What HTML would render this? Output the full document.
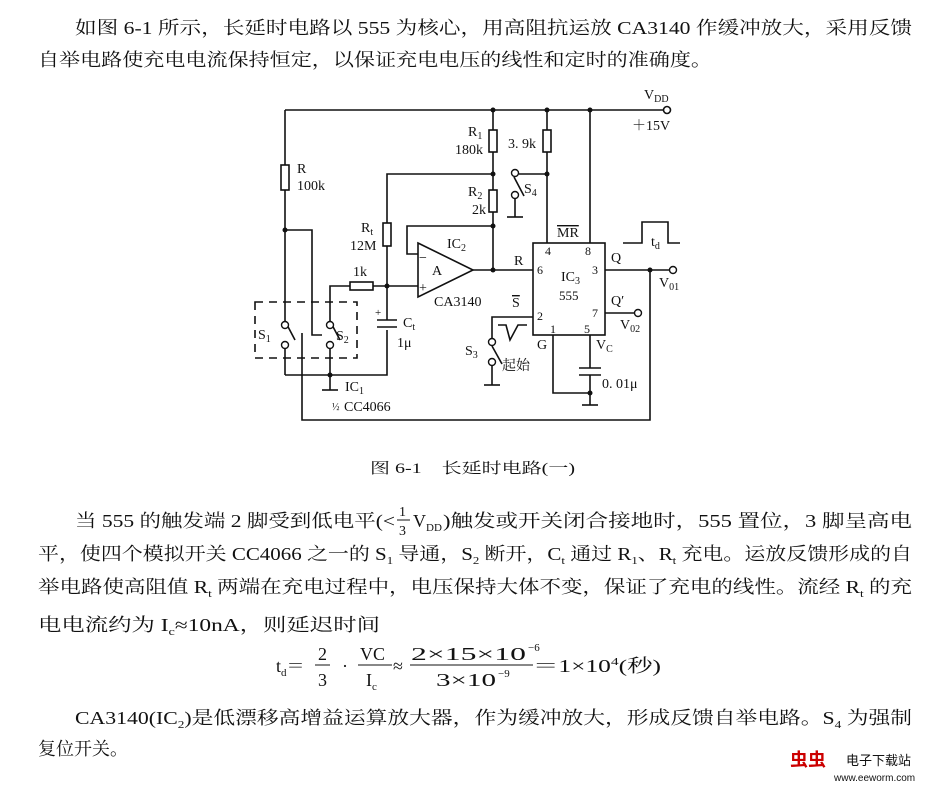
<!DOCTYPE html>
<html><head><meta charset="utf-8"><style>
html,body{margin:0;padding:0;background:#fff}
svg{display:block}
.t{font-family:"Liberation Serif","Noto Serif CJK SC",serif;font-size:18px;fill:#111}
.c{font-family:"Liberation Serif","Noto Serif CJK SC",serif;font-size:14px;fill:#111}
</style></head><body>
<svg width="928" height="785" viewBox="0 0 928 785" xmlns="http://www.w3.org/2000/svg">
<g class="t">
<text x="75" y="34" textLength="837" lengthAdjust="spacingAndGlyphs">如图 6-1 所示，长延时电路以 555 为核心，用高阻抗运放 CA3140 作缓冲放大，采用反馈</text>
<text x="38" y="66" textLength="674" lengthAdjust="spacingAndGlyphs">自举电路使充电电流保持恒定，以保证充电电压的线性和定时的准确度。</text>
<text x="370" y="473" textLength="205" lengthAdjust="spacingAndGlyphs" style="font-size:15px">图 6-1　长延时电路(一)</text>
<text x="75" y="527" textLength="320" lengthAdjust="spacingAndGlyphs">当 555 的触发端 2 脚受到低电平(&lt;</text>
<text x="399" y="516" style="font-size:14px">1</text><line x1="397" y1="520" x2="410" y2="520" stroke="#111"/><text x="399" y="535" style="font-size:14px">3</text>
<text x="413" y="527">V</text><text x="426" y="531" style="font-size:11px">DD</text>
<text x="443" y="527" textLength="469" lengthAdjust="spacingAndGlyphs">)触发或开关闭合接地时，555 置位，3 脚呈高电</text>
<text x="38" y="560" textLength="874" lengthAdjust="spacingAndGlyphs">平，使四个模拟开关 CC4066 之一的 S<tspan style="font-size:11px" dy="4">1</tspan><tspan dy="-4"> 导通，S</tspan><tspan style="font-size:11px" dy="4">2</tspan><tspan dy="-4"> 断开，C</tspan><tspan style="font-size:11px" dy="4">t</tspan><tspan dy="-4"> 通过 R</tspan><tspan style="font-size:11px" dy="4">1</tspan><tspan dy="-4">、R</tspan><tspan style="font-size:11px" dy="4">t</tspan><tspan dy="-4"> 充电。运放反馈形成的自</tspan></text>
<text x="38" y="593" textLength="874" lengthAdjust="spacingAndGlyphs">举电路使高阻值 R<tspan style="font-size:11px" dy="4">t</tspan><tspan dy="-4"> 两端在充电过程中，电压保持大体不变，保证了充电的线性。流经 R</tspan><tspan style="font-size:11px" dy="4">t</tspan><tspan dy="-4"> 的充</tspan></text>
<text x="38" y="631" textLength="342" lengthAdjust="spacingAndGlyphs">电电流约为 I<tspan style="font-size:11px" dy="4">c</tspan><tspan dy="-4">≈10nA，则延迟时间</tspan></text>
<text x="276" y="672">t<tspan style="font-size:11px" dy="4">d</tspan><tspan dy="-4">＝</tspan></text>
<text x="318" y="660">2</text><line x1="315" y1="665" x2="330" y2="665" stroke="#111"/><text x="318" y="686">3</text>
<text x="342" y="672">·</text>
<text x="360" y="660">VC</text><line x1="358" y1="665" x2="392" y2="665" stroke="#111"/><text x="366" y="686">I<tspan style="font-size:11px" dy="4">c</tspan></text>
<text x="393" y="672">≈</text>
<text x="411" y="660" textLength="115" lengthAdjust="spacingAndGlyphs">2×15×10</text><text x="528" y="651" style="font-size:11px">−6</text>
<line x1="410" y1="665" x2="533" y2="665" stroke="#111"/>
<text x="436" y="686" textLength="60" lengthAdjust="spacingAndGlyphs">3×10</text><text x="498" y="677" style="font-size:11px">−9</text>
<text x="533" y="672" textLength="128" lengthAdjust="spacingAndGlyphs">＝1×10<tspan style="font-size:11px" dy="-7">4</tspan><tspan dy="7">(秒)</tspan></text>
<text x="75" y="724" textLength="837" lengthAdjust="spacingAndGlyphs">CA3140(IC<tspan style="font-size:11px" dy="4">2</tspan><tspan dy="-4">)是低漂移高增益运算放大器，作为缓冲放大，形成反馈自举电路。S</tspan><tspan style="font-size:11px" dy="4">4</tspan><tspan dy="-4"> 为强制</tspan></text>
<text x="38" y="755" textLength="90" lengthAdjust="spacingAndGlyphs">复位开关。</text>
</g>
<!-- watermark -->
<text x="790" y="766" style="font-family:'Noto Sans CJK SC',sans-serif;font-size:18px;font-weight:bold;fill:#c00">虫虫</text>
<text x="846" y="765" style="font-family:'Noto Sans CJK SC',sans-serif;font-size:13px;fill:#111">电子下载站</text>
<text x="834" y="781" style="font-family:'Liberation Sans',sans-serif;font-size:10px;fill:#111">www.eeworm.com</text>

<!-- circuit -->
<g stroke="#111" stroke-width="1.6" fill="none">
<polyline points="285,110 663,110"/>
<circle cx="667" cy="110" r="3.5" fill="#fff"/>
<line x1="285" y1="110" x2="285" y2="165"/><rect x="281" y="165" width="8" height="25"/><line x1="285" y1="190" x2="285" y2="321"/>
<polyline points="285,230 312,230 312,335 322,335"/>
<line x1="285" y1="349" x2="285" y2="375"/><polyline points="285,375 387,375 387,330"/>
<line x1="330" y1="375" x2="330" y2="390"/><line x1="322" y1="390" x2="338" y2="390"/>
<line x1="330" y1="349" x2="330" y2="375"/>
<polyline points="330,321 330,286 350,286"/><rect x="350" y="282" width="23" height="8"/><line x1="373" y1="286" x2="418" y2="286"/>
<polyline points="387,286 387,246"/><rect x="383" y="223" width="8" height="23"/><polyline points="387,223 387,174 493,174"/>
<line x1="387" y1="286" x2="387" y2="320"/><line x1="377" y1="320" x2="397" y2="320"/><line x1="377" y1="327" x2="397" y2="327"/>
<line x1="285" y1="321" x2="295" y2="340"/><line x1="330" y1="321" x2="340" y2="340"/>
<rect x="255" y="302" width="102" height="56" stroke-dasharray="8,6"/>
<polyline points="302,333 302,420 650,420 650,270"/>
<line x1="493" y1="110" x2="493" y2="130"/><rect x="489" y="130" width="8" height="22"/><line x1="493" y1="152" x2="493" y2="190"/><rect x="489" y="190" width="8" height="22"/><line x1="493" y1="212" x2="493" y2="270"/>
<polyline points="493,226 407,226 407,254 418,254"/>
<polygon points="418,243 473,270 418,297"/>
<line x1="473" y1="270" x2="533" y2="270"/>
<rect x="533" y="243" width="72" height="92"/>
<line x1="547" y1="110" x2="547" y2="130"/><rect x="543" y="130" width="8" height="22"/><line x1="547" y1="152" x2="547" y2="243"/>
<line x1="519" y1="174" x2="547" y2="174"/>
<line x1="514" y1="177" x2="524" y2="196"/>
<line x1="515" y1="199" x2="515" y2="217"/><line x1="507" y1="217" x2="523" y2="217"/>
<line x1="590" y1="110" x2="590" y2="243"/>
<line x1="605" y1="270" x2="669" y2="270"/>
<line x1="605" y1="313" x2="634" y2="313"/>
<polyline points="533,317 492,317 492,338"/>
<line x1="492" y1="346" x2="502" y2="364"/>
<line x1="492" y1="366" x2="492" y2="385"/><line x1="484" y1="385" x2="500" y2="385"/>
<polyline points="498,325 506,325 510,340 518,325 527,325"/>
<polyline points="553,335 553,393 590,393"/>
<line x1="590" y1="335" x2="590" y2="368"/><line x1="579" y1="368" x2="601" y2="368"/><line x1="579" y1="375" x2="601" y2="375"/><line x1="590" y1="375" x2="590" y2="405"/><line x1="582" y1="405" x2="598" y2="405"/>
<polyline points="623,243 642,243 642,222 668,222 668,243 680,243"/>
</g>
<g fill="#111">
<circle cx="493" cy="110" r="2.5"/><circle cx="547" cy="110" r="2.5"/><circle cx="590" cy="110" r="2.5"/>
<circle cx="285" cy="230" r="2.5"/><circle cx="493" cy="174" r="2.5"/><circle cx="547" cy="174" r="2.5"/><circle cx="493" cy="226" r="2.5"/><circle cx="493" cy="270" r="2.5"/>
<circle cx="387" cy="286" r="2.5"/><circle cx="330" cy="375" r="2.5"/><circle cx="650" cy="270" r="2.5"/><circle cx="590" cy="393" r="2.5"/>
</g>
<g stroke="#111" stroke-width="1.4" fill="#fff">
<circle cx="285" cy="325" r="3.5"/><circle cx="285" cy="345" r="3.5"/><circle cx="330" cy="325" r="3.5"/><circle cx="330" cy="345" r="3.5"/>
<circle cx="515" cy="173" r="3.5"/><circle cx="515" cy="195" r="3.5"/>
<circle cx="492" cy="342" r="3.5"/><circle cx="492" cy="362" r="3.5"/>
<circle cx="673" cy="270" r="3.5"/><circle cx="638" cy="313" r="3.5"/>
</g>
<g class="c">
<text x="644" y="99">V<tspan style="font-size:10px" dy="3">DD</tspan></text>
<text x="632" y="130">＋15V</text>
<text x="297" y="173">R</text><text x="297" y="190">100k</text>
<text x="468" y="136">R<tspan style="font-size:10px" dy="3">1</tspan></text><text x="455" y="154">180k</text>
<text x="508" y="148">3. 9k</text>
<text x="468" y="196">R<tspan style="font-size:10px" dy="3">2</tspan></text><text x="472" y="214">2k</text>
<text x="524" y="193">S<tspan style="font-size:10px" dy="3">4</tspan></text>
<text x="361" y="232">R<tspan style="font-size:10px" dy="3">t</tspan></text><text x="350" y="250">12M</text>
<text x="447" y="248">IC<tspan style="font-size:10px" dy="3">2</tspan></text>
<text x="432" y="275">A</text><text x="419" y="262">−</text><text x="419" y="292">+</text>
<text x="434" y="306">CA3140</text>
<text x="353" y="276">1k</text>
<text x="375" y="316" style="font-size:11px">+</text>
<text x="403" y="327">C<tspan style="font-size:10px" dy="3">t</tspan></text><text x="397" y="347">1μ</text>
<text x="258" y="339">S<tspan style="font-size:10px" dy="3">1</tspan></text><text x="336" y="340">S<tspan style="font-size:10px" dy="3">2</tspan></text>
<text x="345" y="391">IC<tspan style="font-size:10px" dy="3">1</tspan></text>
<text x="332" y="410" style="font-size:10px">½</text><text x="344" y="411">CC4066</text>
<text x="514" y="265">R</text>
<text x="545" y="255" style="font-size:12px">4</text><text x="585" y="255" style="font-size:12px">8</text>
<text x="557" y="237" style="text-decoration:overline">MR</text>
<text x="537" y="274" style="font-size:12px">6</text><text x="592" y="274" style="font-size:12px">3</text>
<text x="561" y="281">IC<tspan style="font-size:10px" dy="3">3</tspan></text><text x="559" y="300" style="font-size:13px">555</text>
<text x="537" y="320" style="font-size:12px">2</text><text x="592" y="317" style="font-size:12px">7</text>
<text x="550" y="333" style="font-size:12px">1</text><text x="584" y="333" style="font-size:12px">5</text>
<text x="512" y="307" style="text-decoration:overline">S</text>
<text x="537" y="349">G</text><text x="596" y="349">V<tspan style="font-size:10px" dy="3">C</tspan></text>
<text x="611" y="262">Q</text><text x="611" y="305">Q′</text>
<text x="659" y="287">V<tspan style="font-size:10px" dy="3">01</tspan></text><text x="620" y="329">V<tspan style="font-size:10px" dy="3">02</tspan></text>
<text x="651" y="246">t<tspan style="font-size:10px" dy="3">d</tspan></text>
<text x="465" y="355">S<tspan style="font-size:10px" dy="3">3</tspan></text><text x="502" y="370">起始</text>
<text x="602" y="388">0. 01μ</text>
</g>
</svg>
</body></html>
